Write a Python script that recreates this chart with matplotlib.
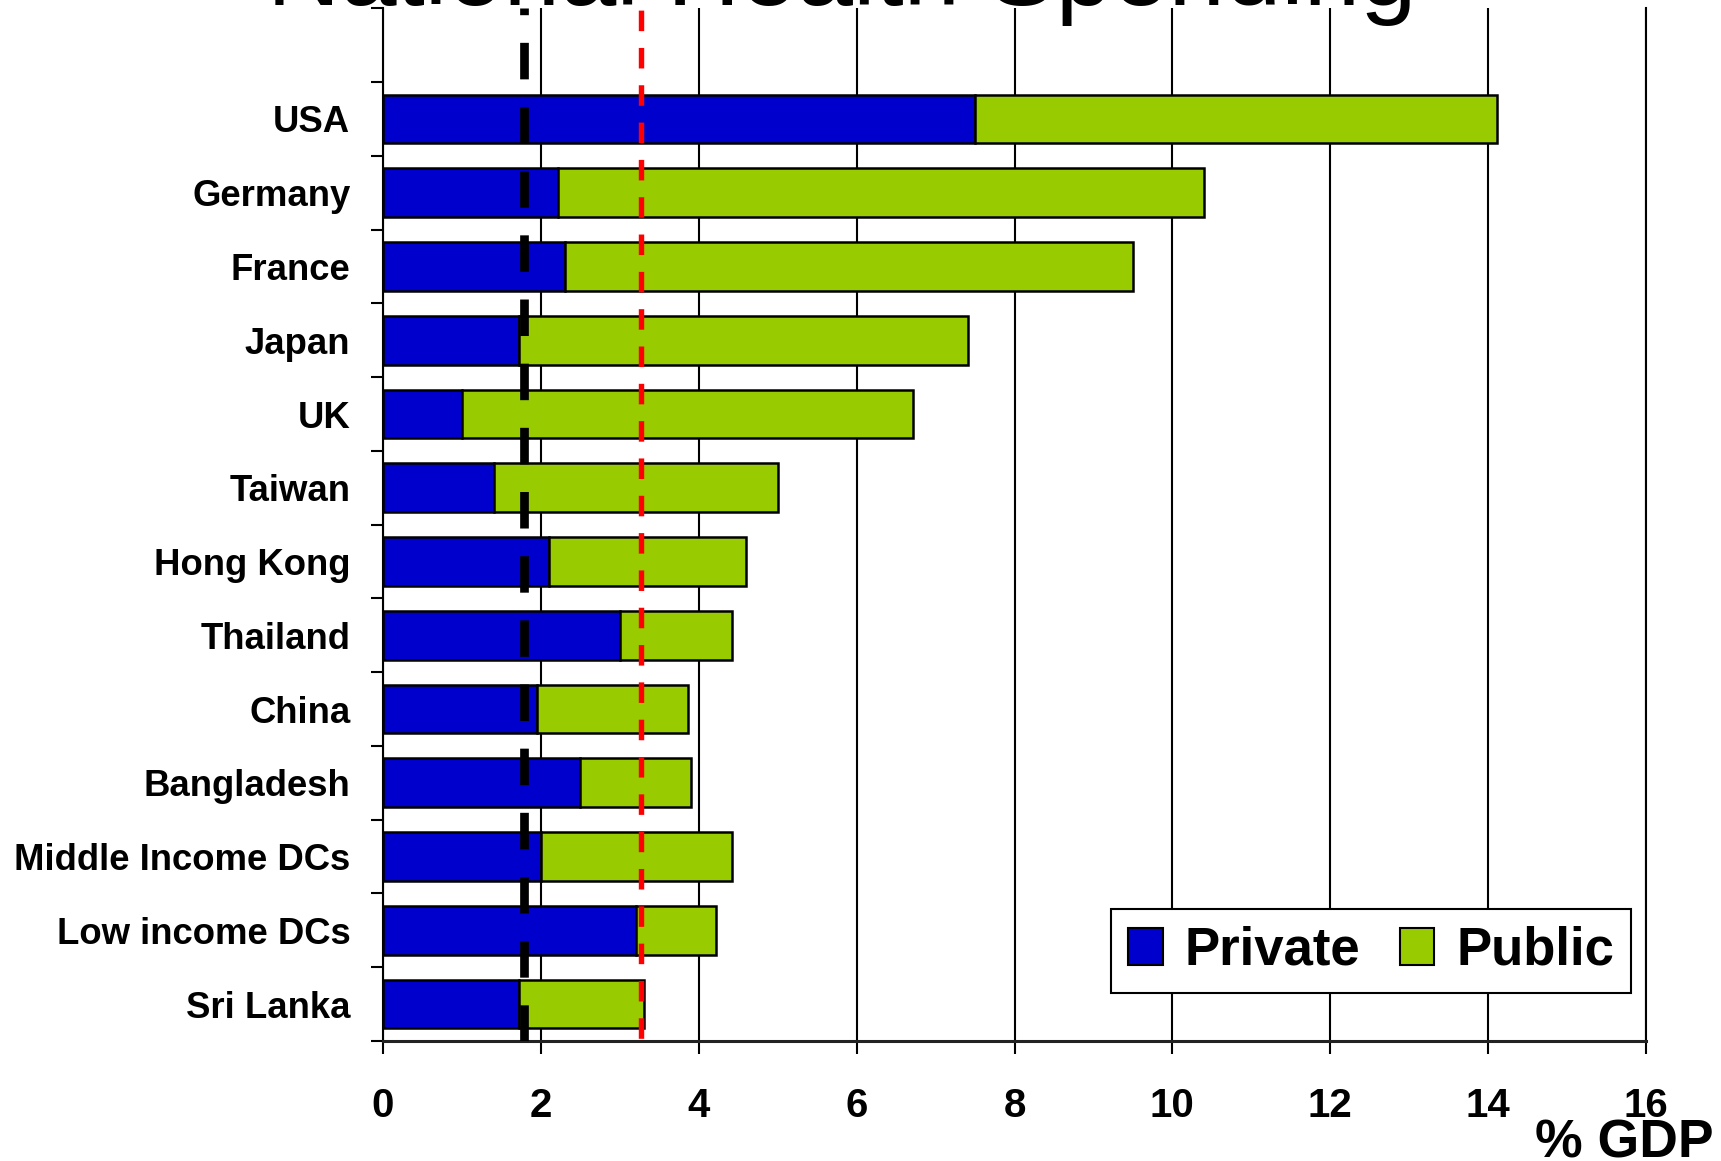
import numpy as np
import matplotlib
matplotlib.use('Agg')
import matplotlib.pyplot as plt
from matplotlib.patches import Patch

plt.rcParams['font.family'] = ['Liberation Sans', 'DejaVu Sans']

# health spending as % of GDP, split into private and public parts
countries = ['USA', 'Germany', 'France', 'Japan', 'UK', 'Taiwan', 'Hong Kong',
             'Thailand', 'China', 'Bangladesh', 'Middle Income DCs',
             'Low income DCs', 'Sri Lanka']
private = [7.5, 2.22, 2.3, 1.72, 1.0, 1.4, 2.1, 3.0, 1.95, 2.5, 2.0, 3.2, 1.72]
public = [6.61, 8.18, 7.2, 5.69, 5.71, 3.6, 2.5, 1.42, 1.92, 1.4, 2.42, 1.02, 1.59]
x_ticks = [0, 2, 4, 6, 8, 10, 12, 14, 16]

# reference levels marked with dashed lines
black_mark = 1.78
red_mark = 3.27

W, H = 1721, 1161
fig = plt.figure(figsize=(W / 100, H / 100), dpi=100)
ax = fig.add_axes([383 / W, (H - 1041) / H, (1646 - 383) / W, (1041 - 8.3) / H])

y = np.arange(len(countries))
ax.barh(y, private, height=0.66, color='#0000CC', edgecolor='black',
        linewidth=1.8, zorder=2)
ax.barh(y, public, left=private, height=0.66, color='#99CC00',
        edgecolor='black', linewidth=1.8, zorder=2)

ax.set_xlim(0, 16)
ax.set_ylim(12.5, -1.5)

# dashed markers, drawn top to bottom
ax.plot([black_mark, black_mark], [-1.5, 12.5], color='black', lw=6.26,
        linestyle=(3.43, (4.2, 3.18)), zorder=4)
ax.plot([red_mark, red_mark], [-1.5, 12.5], color='#FF0000', lw=3.9,
        linestyle=(6.5, (3.79, 3.1)), zorder=4)

ax.set_yticks(y)
ax.set_yticklabels(countries, fontsize=26.3, fontweight='bold')
ax.set_yticks(np.arange(-1.5, 13, 1), minor=True)
ax.tick_params(axis='y', which='major', length=0, pad=23.5)
ax.tick_params(axis='y', which='minor', length=8.6, width=1.5, direction='out')

ax.set_xticks(x_ticks)
ax.set_xticklabels([str(v) for v in x_ticks], fontsize=29, fontweight='bold')
ax.tick_params(axis='x', length=9.4, width=1.5, pad=24, direction='out')

ax.grid(axis='x', color='black', linewidth=1.5)
ax.set_axisbelow(True)

ax.spines['top'].set_visible(False)
ax.spines['left'].set_linewidth(1.5)
ax.spines['right'].set_linewidth(1.5)
ax.spines['bottom'].set_linewidth(2.2)
ax.spines['bottom'].set_color('#222222')

handles = [Patch(facecolor='#0000CC', edgecolor='black', linewidth=1.5),
           Patch(facecolor='#99CC00', edgecolor='black', linewidth=1.5)]
leg = ax.legend(handles, ['Private', 'Public'], ncol=2, loc='upper left',
                bbox_to_anchor=(1111 / W, 1 - 909 / H),
                bbox_transform=fig.transFigure, borderaxespad=0,
                prop={'size': 38, 'weight': 'bold'}, fancybox=False,
                framealpha=1, edgecolor='black', handlelength=0.66,
                handleheight=0.68, handletextpad=0.42, columnspacing=0.74,
                borderpad=0.32)
leg.get_frame().set_linewidth(1.5)
leg.set_zorder(5)

fig.text(842 / W, 1 - 5 / H, 'National Health Spending', ha='center',
         va='baseline', fontsize=73)
fig.text(1535 / W, 3 / H, '% GDP', ha='left', va='baseline', fontsize=38.5,
         fontweight='bold')

fig.savefig('out.png', dpi=100)
